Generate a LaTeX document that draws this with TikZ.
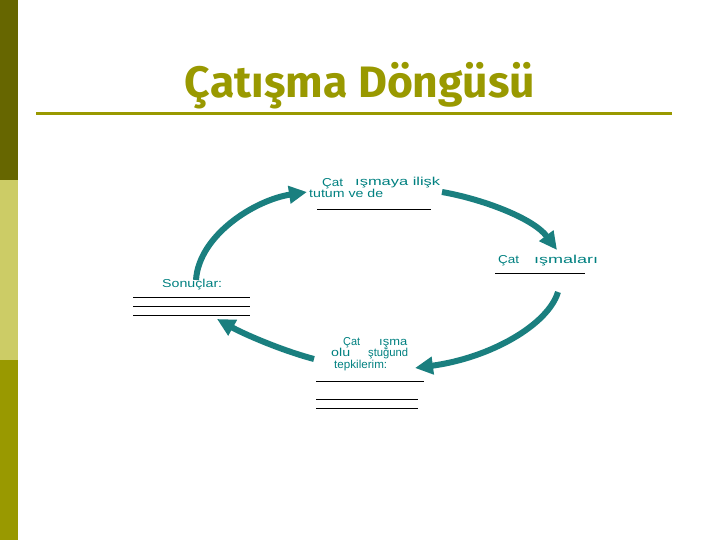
\documentclass[tikz,border=0pt]{standalone}
\usepackage{fontspec}
\usepackage{graphicx}
\setmainfont{Liberation Sans}
\newfontfamily\titlefont{Fira Sans}
\usetikzlibrary{arrows.meta}
\definecolor{barA}{HTML}{666600}
\definecolor{barB}{HTML}{CCCC66}
\definecolor{barC}{HTML}{999900}
\definecolor{olivec}{HTML}{999900}
\definecolor{tealc}{HTML}{008080}
\definecolor{arrowc}{HTML}{1A7F7F}
\newcommand\sw[2]{\resizebox{#1pt}{\height}{#2}}
\begin{document}
\begin{tikzpicture}[x=1pt,y=-1pt,
  lbl/.style={anchor=base west, inner sep=0pt, text=tealc, font=\fontsize{11.5}{13}\selectfont},
  cyc/.style={draw=arrowc, line width=6pt, -{Triangle[length=18pt,width=17pt]}},
  rulez/.style={draw=black, line width=0.9pt}]
\useasboundingbox (0,0) rectangle (720,540);
% left bar
\fill[barA] (0,0) rectangle (18,180);
\fill[barB] (0,180) rectangle (18,360);
\fill[barC] (0,360) rectangle (18,540);
% title
\node[anchor=base, inner sep=0pt, text=olivec, font=\titlefont\bfseries\fontsize{44}{50}\selectfont] (title) at (360,98) {\sw{350}{Çatışma Döngüsü}};
\draw[olivec, line width=3pt] (36,114) -- (672,114);
% top label
\node[lbl] (t1a) at (322,186) {\sw{21}{Çat}};
\node[lbl] (t1b) at (355,186) {\sw{85}{ışmaya ilişk}};
\node[lbl] (t2) at (309,198) {\sw{74}{tutum ve de}};
\draw[rulez] (317,209) -- (431,209);
% right label
\node[lbl] (r1a) at (498,263) {\sw{21}{Çat}};
\node[lbl] (r1b) at (534,263) {\sw{64}{ışmaları}};
\draw[rulez] (495,273) -- (585,273);
% left label
\node[lbl] (s1) at (162,287) {\sw{60}{Sonuçlar:}};
\draw[rulez] (133,297) -- (250,297);
\draw[rulez] (133,306) -- (250,306);
\draw[rulez] (133,315) -- (250,315);
% bottom label
\node[lbl] (b1a) at (343,345) {\sw{17}{Çat}};
\node[lbl] (b1b) at (379,345) {\sw{28}{ışma}};
\node[lbl] (b2a) at (331,356) {\sw{19}{olu}};
\node[lbl] (b2b) at (368,356) {\sw{40}{ştuğund}};
\node[lbl] (b3) at (334,368) {\sw{53}{tepkilerim:}};
\draw[rulez] (316,381) -- (424,381);
\draw[rulez] (316,399) -- (418,399);
\draw[rulez] (316,408) -- (418,408);
% arrow end points
\coordinate (a1s) at (196,280);
\coordinate (a1e) at (307,192);
\coordinate (a2s) at (442,192);
\coordinate (a2e) at (557,250);
\coordinate (a3s) at (558,292);
\coordinate (a3e) at (415,368);
\coordinate (a4s) at (314,359);
\coordinate (a4e) at (217,319);
% cycle arrows
\draw[cyc] (a1s) .. controls (199,235) and (255,200) .. (a1e);
\draw[cyc] (a2s) .. controls (482,199) and (533,218) .. (a2e);
\draw[cyc] (a3s) .. controls (548,325) and (490,358) .. (a3e);
\draw[cyc] (a4s) .. controls (280,350) and (242,333) .. (a4e);
\end{tikzpicture}
\end{document}
